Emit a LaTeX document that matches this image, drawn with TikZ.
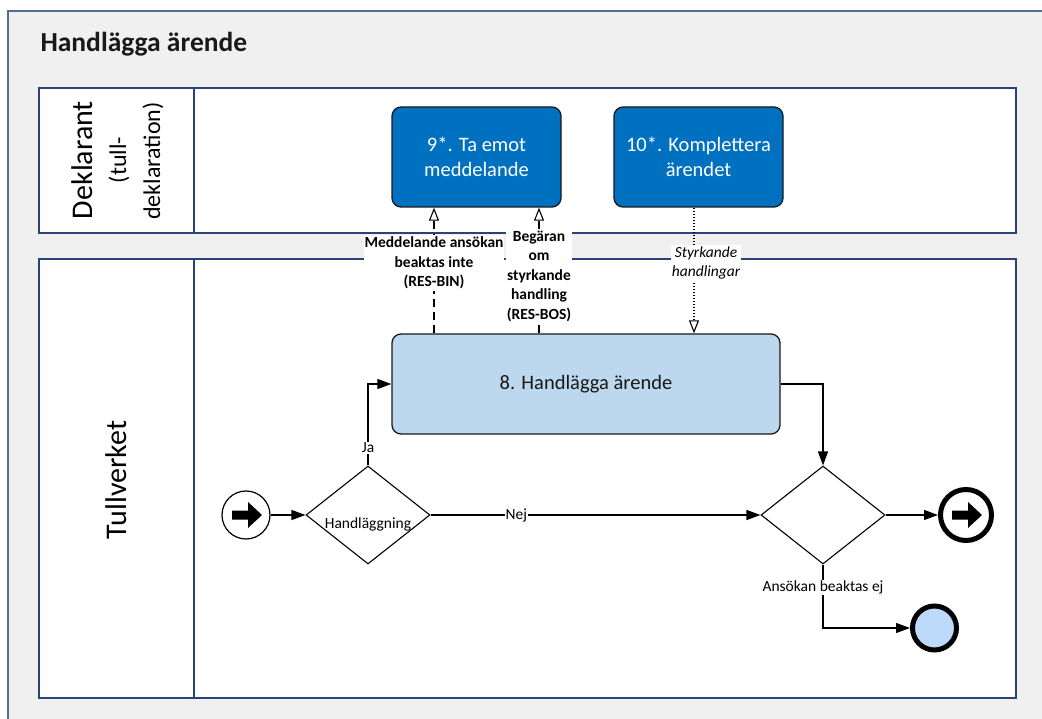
\documentclass[tikz,border=0pt]{standalone}
\usepackage{fontspec}
\setmainfont{Carlito}
\usetikzlibrary{arrows.meta,shapes.geometric}
\newcommand{\myfs}[2]{\fontsize{#1}{#2}\selectfont}
\definecolor{taskblue}{RGB}{0,112,192}
\definecolor{tasklight}{RGB}{189,215,238}
\definecolor{framebg}{RGB}{240,240,240}
\definecolor{frameline}{RGB}{84,110,150}
\definecolor{laneline}{RGB}{40,68,120}
\definecolor{endfill}{RGB}{190,218,250}
\definecolor{ink}{RGB}{25,25,25}
\begin{document}
\begin{tikzpicture}[x=1pt,y=-1pt,
  lane/.style={draw=laneline, line width=1.5pt, fill=white},
  task/.style={draw=ink, line width=1.3pt, rounded corners=9pt, minimum width=169pt,
    minimum height=100pt, inner sep=0pt, align=center, font=\myfs{20.5}{25}},
  gateway/.style={diamond, draw=black, line width=1.1pt, fill=white, minimum width=124pt,
    minimum height=98pt, inner sep=0pt},
  seq/.style={draw=black, line width=1.2pt, -{Triangle[length=14pt,width=10pt]}},
  msgdash/.style={draw=black, line width=1.1pt, dash pattern=on 8pt off 5pt,
    -{Triangle[length=13pt,width=10pt,fill=white]}},
  msgdot/.style={draw=black, line width=1.1pt, dash pattern=on 1.5pt off 1.5pt,
    -{Triangle[length=13pt,width=10pt,fill=white]}},
  lbl/.style={fill=white, inner sep=1pt, font=\myfs{15.5}{19}},
  mlbl/.style={fill=white, inner xsep=1pt, inner ysep=1.5pt, align=center,
    font=\myfs{15.5}{19.5}\bfseries},
  lanelbl/.style={rotate=90, inner sep=0pt}
]
\clip (0,0) rectangle (1042,719);
\fill[white] (0,0) rectangle (1042,719);
\draw[frameline, line width=2pt, fill=framebg] (8,11) rectangle (1070,750);
\node[anchor=base west, font=\myfs{27.5}{33}\bfseries, text=ink] (title) at (37,52) {Handlägga ärende};

% lanes
\draw[lane] (39,88) rectangle (1016,233);
\draw[laneline, line width=1.5pt] (194,88) -- (194,233);
\draw[lane] (39,259) rectangle (1016,698);
\draw[laneline, line width=1.5pt] (194,259) -- (194,698);

\node[lanelbl, font=\myfs{30}{36}] (lab1a) at (82,160) {Deklarant};
\node[lanelbl, font=\myfs{24}{29}] (lab1b) at (119,160) {(tull-};
\node[lanelbl, font=\myfs{24}{29}] (lab1c) at (153,161) {deklaration)};
\node[lanelbl, font=\myfs{30}{36}] (lab2) at (116,480) {Tullverket};

% tasks
\node[task, fill=taskblue, text=white] (t9) at (476.5,157) {9*. Ta emot\\meddelande};
\node[task, fill=taskblue, text=white] (t10) at (698.5,157) {10*. Komplettera\\ärendet};
\node[task, fill=tasklight, text=ink, minimum width=388pt] (t8) at (586,384) {8. Handlägga ärende};

% events
\node[circle, draw=black, line width=1.2pt, minimum size=48pt, inner sep=0pt, fill=white] (start) at (246,515) {};
\fill[black, shift={(start.center)}] (-14,-4.5) -- (2,-4.5) -- (2,-13) -- (16,0) -- (2,13) -- (2,4.5) -- (-14,4.5) -- cycle;
\node[circle, draw=black, line width=5pt, minimum size=51pt, inner sep=0pt, fill=white] (end1) at (966,515) {};
\fill[black, shift={(end1.center)}] (-14,-4.5) -- (2,-4.5) -- (2,-13) -- (16,0) -- (2,13) -- (2,4.5) -- (-14,4.5) -- cycle;
\node[circle, draw=black, line width=5pt, minimum size=44pt, inner sep=0pt, fill=endfill] (end2) at (934.5,628) {};

% gateways
\node[gateway, label={[yshift=-9pt, font=\myfs{15.5}{19}]center:Handläggning}] (g1) at (368,515) {};
\node[gateway] (g2) at (823,515) {};

% sequence flows
\draw[seq] (start.east) -- (g1.west);
\draw[seq] (g1.north) |- (t8.west) node[pos=0.11, lbl] (ja) {Ja};
\draw[seq] (g1.east) -- (g2.west) node[pos=0.26, lbl] (nej) {Nej};
\draw[seq] (t8.east) -| (g2.north);
\draw[seq] (g2.east) -- (end1.west);
\draw[seq] (g2.south) |- (end2.west) node[pos=0.18, lbl] (ej) {Ansökan beaktas ej};

% message flows
\coordinate (mx1) at (434,0);
\coordinate (mx2) at (539,0);
\coordinate (mx3) at (694,0);
\draw[msgdash] (mx1 |- t8.north) -- (mx1 |- t9.south)
  node[pos=0.56, mlbl] (m1) {Meddelande ansökan\\beaktas inte\\(RES-BIN)};
\draw[msgdash] (mx2 |- t8.north) -- (mx2 |- t9.south)
  node[pos=0.455, mlbl] (m2) {Begäran\\om\\styrkande\\handling\\(RES-BOS)};
\draw[msgdot] (mx3 |- t10.south) -- (mx3 |- t8.north)
  node[pos=0.44, mlbl, font=\myfs{15.5}{19}\mdseries\itshape, xshift=12pt] (m3) {Styrkande\\handlingar};
\end{tikzpicture}
\end{document}
